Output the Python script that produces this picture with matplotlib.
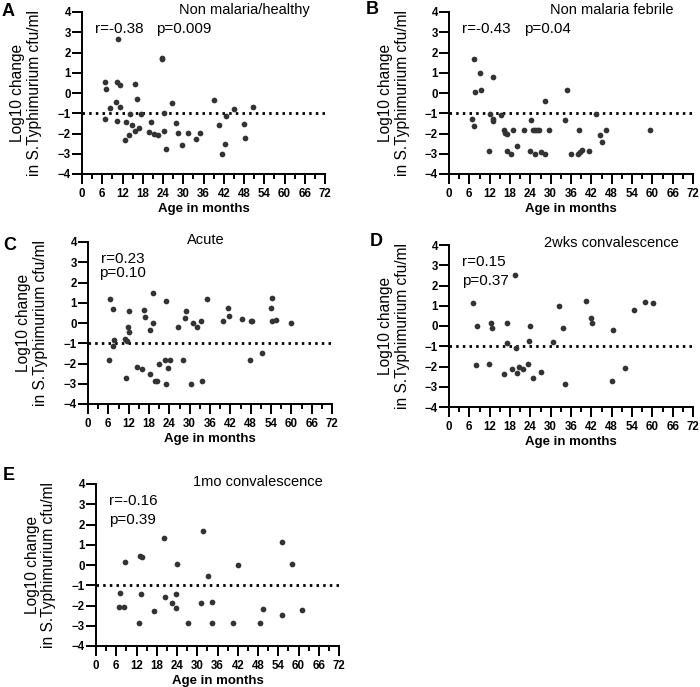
import matplotlib
matplotlib.use("Agg")
import matplotlib.pyplot as plt
from matplotlib.ticker import MultipleLocator

plt.rcParams["font.family"] = ["Liberation Sans", "DejaVu Sans"]

# ---------------- DATA ---------------- #

healthy_age = [6.7, 7.1, 6.7, 8.4, 10.8, 10.3, 11.2, 10.2, 11.3, 10.3, 13.0, 12.8, 14.1,
               14.0, 14.8, 15.6, 16.3, 15.7, 16.8, 17.4, 19.9, 20.4, 21.3, 22.5, 23.6,
               23.8, 24.4, 24.2, 24.9, 26.6, 27.9, 28.5, 29.6, 31.3, 33.7, 35.0, 39.0,
               40.7, 41.6, 42.4, 42.6, 45.0, 47.9, 48.4, 50.8]
healthy_val = [0.54, 0.18, -1.27, -0.72, 2.65, 0.53, 0.38, -0.46, -0.69, -1.37, -1.45, -2.30,
               -1.05, -2.07, -1.56, 0.43, -0.30, -1.88, -1.74, -1.05, -1.94, -1.43, -2.01,
               -2.07, 1.74, 1.70, -0.99, -1.88, -2.78, -0.48, -1.46, -1.99, -2.57, -1.96,
               -2.26, -1.99, -0.33, -1.58, -3.00, -2.52, -1.15, -0.77, -1.51, -2.22, -0.69]

febrile_age = [7.5, 7.7, 9.0, 9.4, 6.9, 7.5, 13.0, 12.2, 12.9, 13.1, 11.9, 15.2, 16.1, 16.6,
               17.0, 17.0, 18.4, 19.0, 20.2, 22.1, 23.9, 24.3, 24.9, 25.4, 26.0, 26.6, 25.5,
               27.1, 28.3, 28.3, 29.6, 34.2, 34.8, 36.0, 38.5, 38.2, 38.8, 39.3, 41.4, 43.4,
               44.7, 45.0, 46.3, 59.2]
febrile_val = [1.70, 0.03, 1.00, 0.13, -1.30, -1.65, 0.77, -1.02, -1.27, -1.40, -2.86, -1.10,
               -1.84, -1.98, -2.02, -2.85, -3.00, -1.84, -2.60, -1.84, -2.86, -1.33, -1.84,
               -1.84, -1.84, -1.84, -3.00, -2.90, -3.00, -0.41, -1.84, -1.33, 0.15, -3.00,
               -1.84, -3.00, -2.91, -2.83, -2.86, -1.05, -2.06, -2.42, -1.84, -1.84]

acute_age = [6.5, 6.1, 7.5, 7.7, 7.5, 11.0, 11.4, 11.3, 12.1, 11.9, 12.2, 14.6, 16.0, 16.6,
             16.7, 18.4, 18.3, 19.3, 19.3, 19.7, 20.5, 21.0, 22.8, 23.0, 22.9, 23.7, 24.2,
             26.5, 28.0, 28.5, 28.8, 30.4, 31.0, 32.3, 33.2, 33.6, 35.2, 39.9, 41.4, 41.7,
             45.5, 48.0, 48.4, 47.8, 51.4, 54.0, 54.3, 54.2, 55.6, 59.9]
acute_val = [1.17, -1.84, 0.67, -0.86, -1.14, -0.77, -0.87, -2.72, 0.59, -0.20, -0.46, -2.16,
             -2.29, 0.64, 0.31, -0.33, -2.53, 1.50, -0.02, -2.85, -2.85, -2.04, -1.84, 1.07,
             -3.00, -2.22, -1.84, -0.20, -1.84, 0.26, 0.61, -3.00, -0.02, -0.20, 0.10, -2.85,
             1.17, 0.08, 0.76, 0.36, 0.21, 0.10, 0.10, -1.84, -1.47, 0.72, 1.22, 0.08, 0.16,
             0.02]

wk2_age = [7.1, 8.25, 8.05, 11.9, 12.4, 12.7, 16.3, 17.0, 17.0, 18.7, 19.6, 19.9, 20.0, 20.7,
           21.9, 23.2, 23.5, 24.0, 24.9, 27.0, 30.8, 32.6, 33.5, 34.1, 40.5, 41.8, 42.1, 48.3,
           48.1, 51.9, 54.6, 57.7, 60.1]
wk2_val = [1.15, 0.00, -1.92, -1.87, 0.15, -0.08, -2.38, 0.15, -0.85, -2.13, 2.50, -1.10,
           -2.30, -2.02, -2.13, -1.86, -0.76, -0.02, -2.55, -2.25, -0.80, 1.00, -0.11, -2.86,
           1.22, 0.38, 0.15, -0.20, -2.71, -2.05, 0.80, 1.18, 1.15]

mo1_age = [6.7, 7.2, 8.4, 8.5, 12.9, 13.7, 13.2, 12.8, 17.3, 20.0, 20.3, 22.6, 23.6, 23.6,
           24.1, 27.3, 31.0, 31.7, 33.3, 34.5, 34.5, 40.7, 42.1, 48.7, 49.4, 55.1, 55.2,
           58.0, 61.0]
mo1_val = [-2.06, -1.38, -2.06, 0.15, 0.43, 0.38, -1.43, -2.87, -2.29, 1.32, -1.58, -1.89,
           -1.43, -2.13, 0.07, -2.87, -1.88, 1.70, -0.53, -1.85, -2.87, -2.87, 0.00, -2.87,
           -2.17, 1.15, -2.45, 0.07, -2.22]

# ---------------- LAYOUT ---------------- #

W, H = 700, 687

panels = [
    # letter, title, x, y, r-text, p-text, (left, top, right, bottom) px
    ("A", "Non malaria/healthy", healthy_age, healthy_val, "r=-0.38", "p=0.009", (82, 12, 325, 174)),
    ("B", "Non malaria febrile", febrile_age, febrile_val, "r=-0.43", "p=0.04", (449, 12, 693, 174)),
    ("C", "Acute", acute_age, acute_val, "r=0.23", "p=0.10", (88, 242, 332, 404)),
    ("D", "2wks convalescence", wk2_age, wk2_val, "r=0.15", "p=0.37", (449, 245, 693, 407)),
    ("E", "1mo convalescence", mo1_age, mo1_val, "r=-0.16", "p=0.39", (96, 484, 339, 646)),
]

YLAB1 = "Log10 change"
YLAB2 = "in S.Typhimurium cfu/ml"

fig = plt.figure(figsize=(W / 100, H / 100), dpi=100)

for letter, title, xs, ys, rtxt, ptxt, box in panels:
    l, t, r, b = box
    ax = fig.add_axes([l / W, 1 - b / H, (r - l) / W, (b - t) / H])

    ax.scatter(xs, ys, s=17, color="#333333", zorder=3, linewidths=0)
    ax.plot([0, 72], [-1, -1], color="black", lw=2.0,
            linestyle=(0, (0.9, 1.5)), zorder=2)

    ax.set_xlim(0, 72)
    ax.set_ylim(-4, 4)
    ax.xaxis.set_major_locator(MultipleLocator(6))
    ax.xaxis.set_minor_locator(MultipleLocator(3))
    ax.yaxis.set_major_locator(MultipleLocator(1))

    for side in ("top", "right"):
        ax.spines[side].set_visible(False)
    for side in ("left", "bottom"):
        ax.spines[side].set_linewidth(1.4)

    ax.tick_params(which="major", length=7, width=1.4, labelsize=8.3)
    ax.tick_params(axis="x", which="major", pad=3)
    ax.tick_params(axis="y", which="major", pad=1)
    ax.tick_params(axis="x", which="minor", length=3.6, width=1.4)
    for lab in ax.get_xticklabels() + ax.get_yticklabels():
        lab.set_fontweight("bold")

    ax.set_xlabel("Age in months", fontsize=9.5, fontweight="bold", labelpad=2)

    # two-line y label, one text per line
    yc = 1 - (t + b) / 2 / H
    fig.text((l - 64) / W, yc, YLAB1, fontsize=11.2, rotation=90,
             ha="center", va="center")
    fig.text((l - 47) / W, yc, YLAB2, fontsize=11.2, rotation=90,
             ha="center", va="center")

    ax.text(48 if letter != "C" else 34.7, 4.1, title, fontsize=10.5,
            ha="center", va="center", clip_on=False)

    if letter in ("A", "B"):
        ax.text(3.9, 3.15, rtxt, fontsize=11, ha="left", va="center")
        ax.text(22.0, 3.15, ptxt, fontsize=11, ha="left", va="center")
    elif letter == "C":
        ax.text(10.3, 3.15, rtxt, fontsize=11, ha="center", va="center")
        ax.text(10.3, 2.45, ptxt, fontsize=11, ha="center", va="center")
    else:
        ax.text(3.8, 3.15, rtxt, fontsize=11, ha="left", va="center")
        ax.text(3.8, 2.2, ptxt, fontsize=11, ha="left", va="center")

# panel letters
letters = {"A": (2, 12), "B": (366, 10), "C": (3, 245), "D": (370, 242), "E": (3, 475)}
for k, (px, py) in letters.items():
    fig.text(px / W, 1 - py / H, k, fontsize=13, fontweight="bold", ha="left", va="center")

fig.savefig("out.png", dpi=100)
